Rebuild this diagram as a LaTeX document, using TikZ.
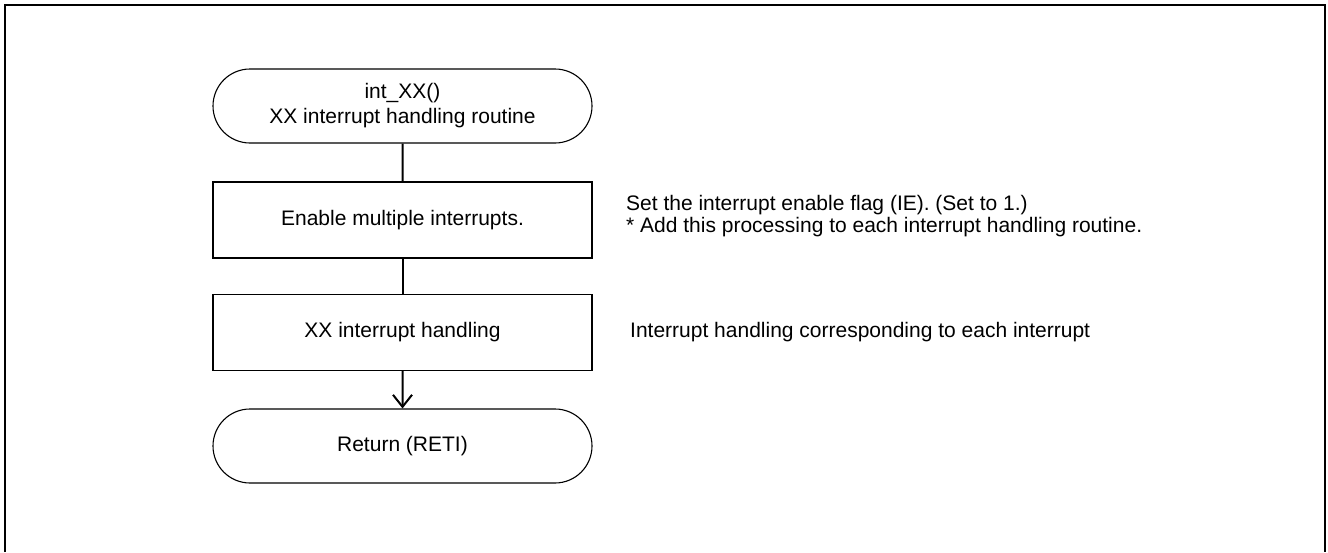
\documentclass[tikz,border=0pt]{standalone}
\usepackage{fontspec}
\setmainfont{Liberation Sans}
\usetikzlibrary{shapes.misc,arrows.meta}
\tikzset{
  every node/.style={font=\fontsize{21}{25}\selectfont},
  terminal/.style={rounded rectangle, draw, line width=1.1pt,
    minimum width=379pt, minimum height=74pt, inner sep=0pt, align=center},
  process/.style={rectangle, draw, line width=1.1pt,
    minimum width=379pt, minimum height=76pt, inner sep=0pt, align=center},
  flow/.style={line width=2pt},
  note/.style={anchor=west, align=left, inner sep=0pt,
    font=\fontsize{21}{22.5}\selectfont},
}
\begin{document}
\begin{tikzpicture}[x=1pt,y=-1pt]
  \useasboundingbox (0,0) rectangle (1328,552);
  % frame
  \draw[line width=2.4pt] (5,552) -- (5,5) -- (1325,5) -- (1325,552);

  % flowchart
  \node[terminal] (start) at (402.5,106) {int\_XX()\\XX interrupt handling routine};
  \node[process]  (enable) at (402.5,220) {Enable multiple interrupts.};
  \node[process]  (handle) at (402.5,332.5) {XX interrupt handling};
  \node[terminal] (ret)   at (402.5,446) {Return (RETI)};

  \draw[flow] (start) -- (enable);
  \draw[flow] (enable) -- (handle);
  \draw[flow, -{Straight Barb[length=12pt,width=19pt,line width=2pt]}] (handle) -- (ret);

  % remarks
  \node[note] (n1) at (626,216) {Set the interrupt enable flag (IE). (Set to 1.)\\* Add this processing to each interrupt handling routine.};
  \node[note] (n2) at (630,332.5) {Interrupt handling corresponding to each interrupt};
\end{tikzpicture}
\end{document}
